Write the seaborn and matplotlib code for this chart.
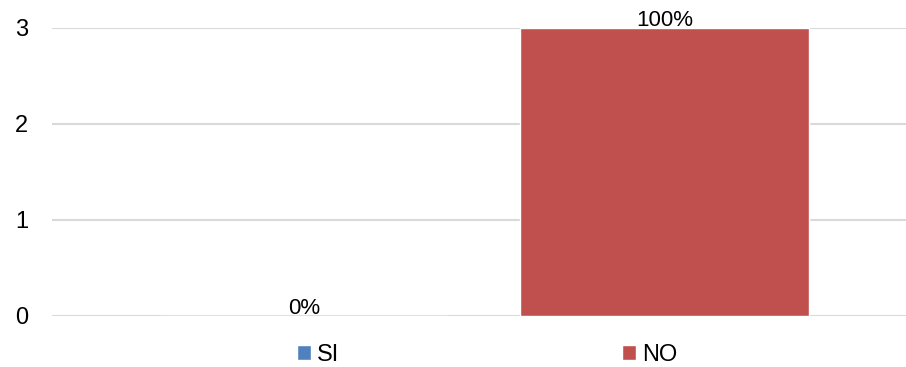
import matplotlib
matplotlib.use("Agg")
import matplotlib.pyplot as plt
import seaborn as sns
import pandas as pd

categories = ["SI", "NO"]
values = [0, 3]
pct_labels = ["0%", "100%"]
colors = ["#4F81BD", "#C0504D"]

sns.set_style("white")
plt.rcParams['font.family'] = ['Liberation Sans', 'DejaVu Sans']
plt.rcParams['text.color'] = 'black'
plt.rcParams['ytick.color'] = 'black'

df = pd.DataFrame({"Respuesta": categories, "Cantidad": values})

fig = plt.figure(figsize=(9.06, 3.67), dpi=100)
ax = fig.add_axes([52 / 906, (367 - 316) / 367, (906 - 52) / 906, (316 - 28) / 367])

sns.barplot(data=df, x="Respuesta", y="Cantidad", hue="Respuesta",
            palette=colors, width=0.8, saturation=1, legend=True, ax=ax)

ax.set_xlim(-0.70, 1.67)
ax.set_ylim(0, 3)
ax.set_yticks([0, 1, 2, 3])
ax.set_xticks([])
ax.set_xlabel("")
ax.set_ylabel("")
ax.tick_params(axis="y", length=0, pad=17, labelsize=17, labelcolor="black")
ax.yaxis.grid(True, color="#d9d9d9", linewidth=1.5)
ax.set_axisbelow(True)
for s in ax.spines.values():
    s.set_visible(False)

for cont, lab in zip(ax.containers, pct_labels):
    ax.bar_label(cont, labels=[lab], padding=-2, fontsize=16, color="black")

sns.move_legend(ax, "center", bbox_to_anchor=(487 / 906, 12 / 367),
                bbox_transform=fig.transFigure, ncol=2, frameon=False,
                title=None, fontsize=17, handlelength=0.6, handleheight=0.6,
                handletextpad=0.25, columnspacing=12.0, borderpad=0.1,
                labelcolor="black")

fig.savefig("out.png", dpi=100)
